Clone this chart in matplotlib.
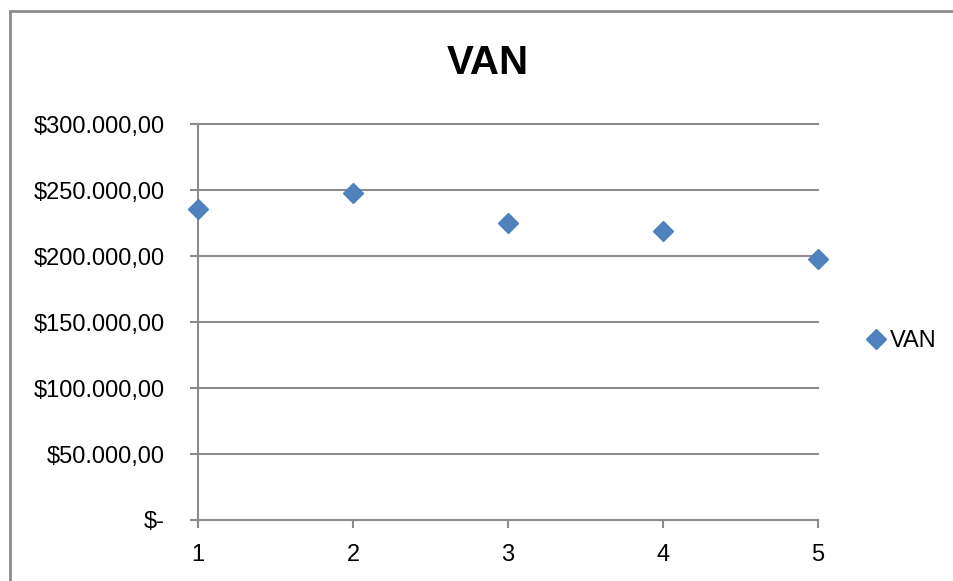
import matplotlib
matplotlib.use('Agg')
import matplotlib.pyplot as plt
from matplotlib.patches import Rectangle
from matplotlib.ticker import FuncFormatter

years = [1, 2, 3, 4, 5]
van = [235600, 247700, 225200, 219200, 197700]

y_ticks = [0, 50000, 100000, 150000, 200000, 250000, 300000]

grid_color = '#8c8c8c'
marker_color = '#4f81bd'


def money(v, pos):
    if v == 0:
        return '$-'
    s = f'{v:,.2f}'
    s = s.replace(',', 'X').replace('.', ',').replace('X', '.')
    return '$' + s


plt.rcParams['font.family'] = ['Liberation Sans', 'DejaVu Sans']

fig = plt.figure(figsize=(9.54, 5.81), dpi=100)
ax = fig.add_axes([198 / 954, 61 / 581, 620 / 954, 396 / 581])

# chart border (right and bottom edges fall outside the image)
fig.patches.append(Rectangle((10 / 954, -0.1), 1.1, (581 - 11) / 581 + 0.1,
                             transform=fig.transFigure, fill=False,
                             edgecolor=grid_color, linewidth=2))

ax.plot(years, van, linestyle='none', marker='D', markersize=10.5,
        color=marker_color, label='VAN', clip_on=False, zorder=5)

ax.set_xlim(1, 5)
ax.set_ylim(0, 300000)
ax.set_xticks(years)
ax.set_yticks(y_ticks)
ax.yaxis.set_major_formatter(FuncFormatter(money))

ax.grid(axis='y', color=grid_color, linewidth=1.5)
for gl in ax.get_ygridlines():
    gl.set_clip_on(False)
ax.set_axisbelow(True)
for side in ['top', 'right']:
    ax.spines[side].set_visible(False)
for side in ['left', 'bottom']:
    ax.spines[side].set_color(grid_color)
    ax.spines[side].set_linewidth(1.5)

ax.tick_params(axis='y', length=6, width=1.5, color=grid_color,
               pad=18, labelsize=17)
ax.tick_params(axis='x', length=6, width=1.5, color=grid_color,
               pad=11, labelsize=17)

fig.text(488 / 954, 1 - 63 / 581, 'VAN', ha='center', va='center',
         fontsize=29, fontweight='bold')

ax.legend(loc='center left', bbox_to_anchor=(857 / 954, 1 - 341 / 581),
          bbox_transform=fig.transFigure, frameon=False, fontsize=17,
          handlelength=0.6, handletextpad=0.3, borderpad=0)

fig.savefig('out.png', dpi=100)
